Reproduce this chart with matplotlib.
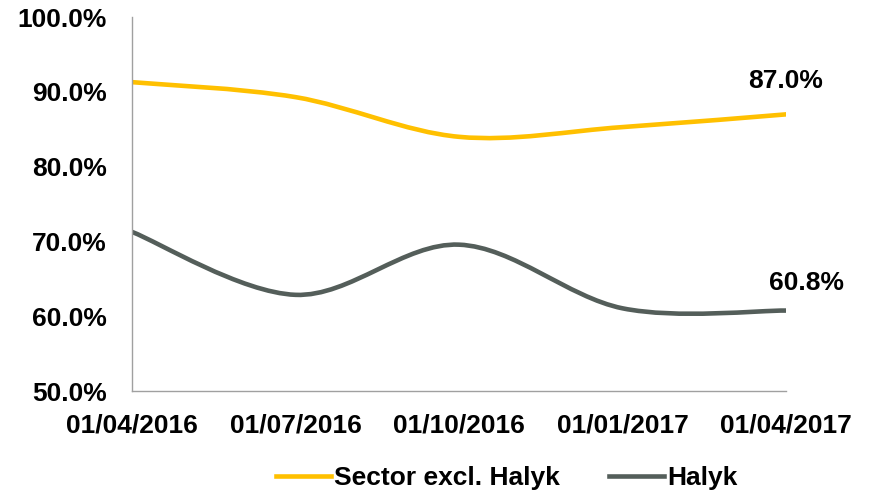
import matplotlib.pyplot as plt
from matplotlib.path import Path
from matplotlib.patches import PathPatch
from matplotlib.lines import Line2D

dates = ['01/04/2016', '01/07/2016', '01/10/2016', '01/01/2017', '01/04/2017']
sector = [91.3, 89.3, 84.0, 85.3, 87.0]
halyk = [71.3, 62.9, 69.6, 61.1, 60.8]

yellow = '#FFC000'
grey = '#545E5A'

plt.rcParams['font.family'] = ['Liberation Sans', 'DejaVu Sans']
plt.rcParams['font.weight'] = 'bold'


def smooth_path(xs, ys):
    # Catmull-Rom style smoothing, drawn as cubic bezier segments
    pts = list(zip(xs, ys))
    verts = [pts[0]]
    codes = [Path.MOVETO]
    n = len(pts)
    for i in range(n - 1):
        p0 = pts[max(i - 1, 0)]
        p1 = pts[i]
        p2 = pts[i + 1]
        p3 = pts[min(i + 2, n - 1)]
        c1 = (p1[0] + (p2[0] - p0[0]) / 6, p1[1] + (p2[1] - p0[1]) / 6)
        c2 = (p2[0] - (p3[0] - p1[0]) / 6, p2[1] - (p3[1] - p1[1]) / 6)
        verts += [c1, c2, p2]
        codes += [Path.CURVE4] * 3
    return Path(verts, codes)


fig = plt.figure(figsize=(8.69, 4.93), dpi=100)
ax = fig.add_axes([0.152, 0.206, 0.7525, 0.7595])

x = list(range(len(dates)))
for vals, col in [(sector, yellow), (halyk, grey)]:
    ax.add_patch(PathPatch(smooth_path(x, vals), facecolor='none',
                           edgecolor=col, lw=3.3, capstyle='round'))

ax.set_xlim(0, len(dates) - 1)
ax.set_ylim(50, 100)
ax.set_yticks(range(50, 101, 10))
ax.set_yticklabels([f'{v:.1f}%' for v in range(50, 101, 10)])
ax.set_xticks(x)
ax.set_xticklabels(dates)
ax.tick_params(axis='both', length=0, labelsize=19)
ax.tick_params(axis='y', pad=18)
ax.tick_params(axis='x', pad=16)

for s in ['top', 'right']:
    ax.spines[s].set_visible(False)
for s in ['left', 'bottom']:
    ax.spines[s].set_color('#a0a0a0')
    ax.spines[s].set_linewidth(1.0)

ax.annotate(f'{sector[-1]:.1f}%', (x[-1], sector[-1]), xytext=(0, 24),
            textcoords='offset points', ha='center', va='center',
            fontsize=19, fontweight='bold', annotation_clip=False)
ax.annotate(f'{halyk[-1]:.1f}%', (x[-1], halyk[-1]), xytext=(15, 20),
            textcoords='offset points', ha='center', va='center',
            fontsize=19, fontweight='bold', annotation_clip=False)

handles = [Line2D([], [], color=yellow, lw=3.3),
           Line2D([], [], color=grey, lw=3.3)]
fig.legend(handles, ['Sector excl. Halyk', 'Halyk'], loc='center',
           bbox_to_anchor=(0.583, 0.03), ncol=2, frameon=False, fontsize=19,
           handlelength=2.1, handletextpad=0.1, columnspacing=1.85)

fig.savefig('out.png', dpi=100)
